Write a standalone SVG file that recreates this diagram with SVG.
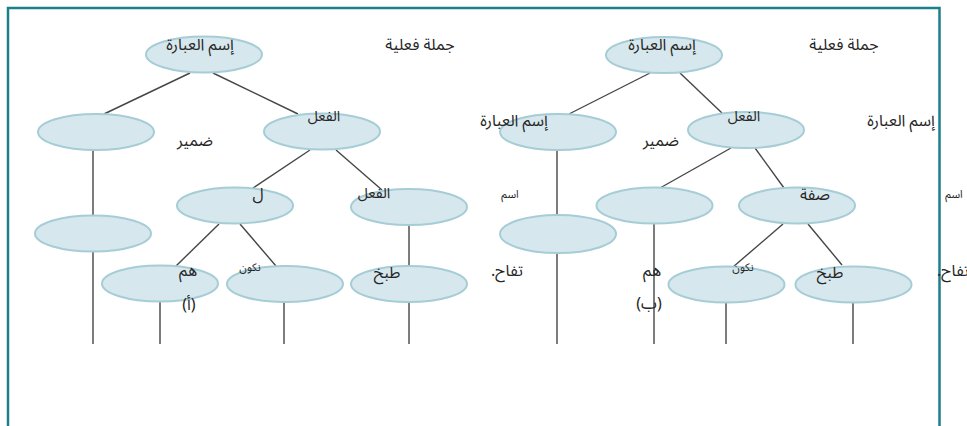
<svg xmlns="http://www.w3.org/2000/svg" width="967" height="426" viewBox="0 0 967 426">
  <style>
    .node { fill: #d6e8ee; stroke: #a6cdd6; stroke-width: 2; }
    .edge { stroke: #464646; stroke-width: 1.4; fill: none; }
    text { font-family: "Noto Sans Arabic", "DejaVu Sans", "Noto Sans", sans-serif; fill: #262626; text-anchor: middle; direction: rtl; }
    .lg { font-size: 16px; }
    .md { font-size: 14.5px; }
    .sm { font-size: 11px; }
    .tag { font-size: 16px; }
    .frame { fill: none; stroke: #1b7f8c; stroke-width: 2.5; }
  </style>
  <rect width="967" height="426" fill="#ffffff"/>
  <!-- outer frame, open at the bottom -->
  <path class="frame" d="M8 430 V8 H939.5 V430"/>

  <!-- connectors -->
  <g id="connectors">
    <!-- tree (a) -->
    <line class="edge" x1="190" y1="73" x2="104" y2="114"/>
    <line class="edge" x1="213" y1="73" x2="298" y2="114"/>
    <line class="edge" x1="310" y1="150" x2="253" y2="188"/>
    <line class="edge" x1="336" y1="150" x2="382" y2="190"/>
    <line class="edge" x1="219" y1="224" x2="176" y2="266"/>
    <line class="edge" x1="240" y1="224" x2="276" y2="266"/>
    <line class="edge" x1="93" y1="150" x2="93" y2="215"/>
    <line class="edge" x1="93" y1="252" x2="93" y2="344"/>
    <line class="edge" x1="160" y1="302" x2="160" y2="344"/>
    <line class="edge" x1="284" y1="302" x2="284" y2="344"/>
    <line class="edge" x1="409" y1="225" x2="409" y2="266"/>
    <line class="edge" x1="409" y1="302" x2="409" y2="344"/>
    <!-- tree (b) -->
    <line class="edge" x1="650" y1="73" x2="569" y2="114"/>
    <line class="edge" x1="680" y1="73" x2="722" y2="113"/>
    <line class="edge" x1="731" y1="148" x2="660" y2="188"/>
    <line class="edge" x1="755" y1="148" x2="784" y2="188"/>
    <line class="edge" x1="783" y1="224" x2="733" y2="267"/>
    <line class="edge" x1="808" y1="224" x2="842" y2="265"/>
    <line class="edge" x1="557" y1="150" x2="557" y2="215"/>
    <line class="edge" x1="557" y1="253" x2="557" y2="344"/>
    <line class="edge" x1="654" y1="224" x2="654" y2="344"/>
    <line class="edge" x1="726" y1="303" x2="726" y2="344"/>
    <line class="edge" x1="853" y1="303" x2="853" y2="344"/>
  </g>

  <!-- tree (a) nodes -->
  <g id="a-root"><ellipse class="node" cx="204" cy="54.5" rx="58" ry="18"/><text class="lg" x="200" y="50">إسم العبارة</text></g>
  <g id="a-pron"><ellipse class="node" cx="96" cy="132" rx="58" ry="18"/></g>
  <g id="a-verb"><ellipse class="node" cx="322" cy="131.5" rx="58" ry="18"/><text class="md" x="324" y="121">الفعل</text></g>
  <g id="a-lam"><ellipse class="node" cx="235" cy="205.5" rx="58" ry="18"/><text class="lg" x="258" y="199">ل</text></g>
  <g id="a-verb2"><ellipse class="node" cx="409" cy="207" rx="58" ry="18"/><text class="md" x="374" y="198">الفعل</text></g>
  <g id="a-noun"><ellipse class="node" cx="93" cy="233.5" rx="58" ry="18"/></g>
  <g id="a-hum"><ellipse class="node" cx="160" cy="283.5" rx="58" ry="18"/><text class="lg" x="188" y="276">هم</text></g>
  <g id="a-nakun"><ellipse class="node" cx="285" cy="284" rx="58" ry="18"/><text class="sm" x="250" y="271">نكون</text></g>
  <g id="a-tabkh"><ellipse class="node" cx="409" cy="284" rx="58" ry="18"/><text class="lg" x="387" y="278">طبخ</text></g>
  <text class="lg" x="420" y="50">جملة فعلية</text>
  <text class="lg" x="195" y="146">ضمير</text>
  <text class="sm" x="510" y="198">اسم</text>
  <text class="lg" x="507" y="276">تفاح.</text>
  <text class="tag" x="189" y="310">(أ)</text>

  <!-- tree (b) nodes -->
  <g id="b-root"><ellipse class="node" cx="664" cy="55" rx="58" ry="18"/><text class="lg" x="662" y="50">إسم العبارة</text></g>
  <g id="b-np"><ellipse class="node" cx="558" cy="132" rx="58" ry="18"/><text class="lg" x="514" y="126">إسم العبارة</text></g>
  <g id="b-verb"><ellipse class="node" cx="746" cy="130" rx="58" ry="18"/><text class="md" x="744" y="121">الفعل</text></g>
  <g id="b-mid"><ellipse class="node" cx="654.5" cy="205.5" rx="58" ry="18"/></g>
  <g id="b-adj"><ellipse class="node" cx="797" cy="205.5" rx="58" ry="18"/><text class="lg" x="815" y="200">صفة</text></g>
  <g id="b-noun"><ellipse class="node" cx="558" cy="234" rx="58" ry="19"/></g>
  <g id="b-nakun"><ellipse class="node" cx="726.5" cy="284.5" rx="58" ry="18"/><text class="sm" x="743" y="271">نكون</text></g>
  <g id="b-tabkh"><ellipse class="node" cx="853.5" cy="284.5" rx="58" ry="18"/><text class="lg" x="830" y="278">طبخ</text></g>
  <text class="lg" x="844" y="50">جملة فعلية</text>
  <text class="lg" x="661" y="146">ضمير</text>
  <text class="lg" x="901" y="126">إسم العبارة</text>
  <text class="sm" x="954" y="198">اسم</text>
  <text class="lg" x="953" y="276">تفاح.</text>
  <text class="lg" x="652" y="276">هم</text>
  <text class="tag" x="649" y="309">(ب)</text>
</svg>
